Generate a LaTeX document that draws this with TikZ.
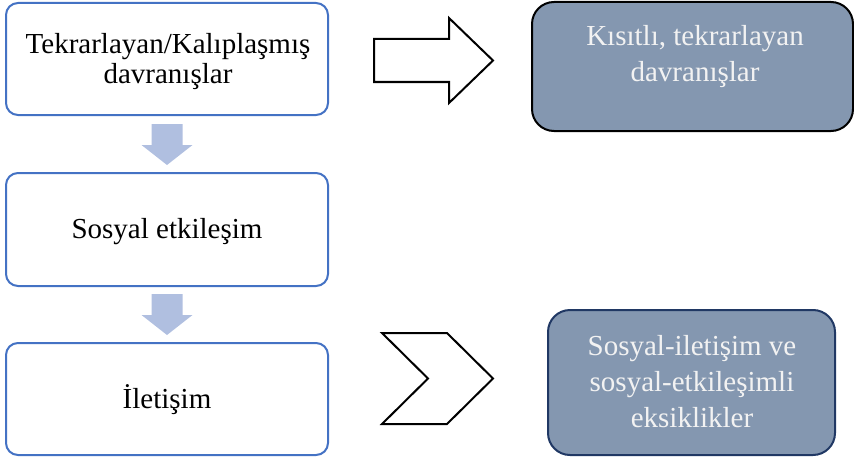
\documentclass[tikz,border=0pt]{standalone}
\usepackage{fontspec}
\setmainfont{Liberation Serif}
\definecolor{boxblue}{RGB}{68,114,196}
\definecolor{arrowblue}{RGB}{176,191,224}
\definecolor{slate}{RGB}{132,151,176}
\definecolor{navyb}{RGB}{32,56,100}
\definecolor{paletext}{RGB}{242,242,242}
\tikzset{
  lbox/.style={draw=boxblue, line width=2pt, rounded corners=12pt, fill=white,
    minimum width=322pt, minimum height=112pt, inner sep=0pt},
  dbox/.style={fill=slate, line width=2pt, rounded corners=22pt, inner sep=0pt},
  btext/.style={font=\fontsize{29}{30}\selectfont, align=center, inner sep=0pt, anchor=base},
  wtext/.style={font=\fontsize{29}{36}\selectfont, align=center, inner sep=0pt, anchor=base, text=paletext},
  downarrow/.style={fill=arrowblue, draw=none},
  hollow/.style={draw=black, line width=2pt, fill=white, line join=miter}
}
\begin{document}
\begin{tikzpicture}[x=1pt,y=-1pt]
\useasboundingbox (0,0) rectangle (854,460);
% left boxes
\node[lbox] (b1) at (167,59) {};
\node[lbox, minimum height=113pt] (b2) at (167,229.5) {};
\node[lbox] (b3) at (167,399) {};
\node[btext] (t1) at (168,83.5) {Tekrarlayan/Kalıplaşmış\\davranışlar};
\node[btext] (t2) at (167,238) {Sosyal etkileşim};
\node[btext] (t3) at (167,408) {İletişim};
% down block arrows
\fill[downarrow] ([xshift=-15.5pt,yshift=-8pt]b1.south) -- ++(31,0) -- ++(0,21) -- ++(10,0)
  -- ([yshift=-49pt]b1.south) -- ([xshift=-25.5pt,yshift=-29pt]b1.south) -- ++(10,0) -- cycle;
\fill[downarrow] ([xshift=-15.5pt,yshift=-7pt]b2.south) -- ++(31,0) -- ++(0,21) -- ++(10,0)
  -- ([yshift=-48pt]b2.south) -- ([xshift=-25.5pt,yshift=-28pt]b2.south) -- ++(10,0) -- cycle;
% right boxes
\node[dbox, draw=black, minimum width=321pt, minimum height=129pt] (r1) at (692.5,66.5) {};
\node[wtext] (r1t) at (695,81.5) {Kısıtlı, tekrarlayan\\davranışlar};
\node[dbox, draw=navyb, minimum width=287pt, minimum height=145pt] (r2) at (691.5,382.5) {};
\node[wtext] (r2t) at (692,427) {Sosyal-iletişim ve\\sosyal-etkileşimli\\eksiklikler};
% hollow arrow
\draw[hollow] (374,39) -- (449,39) -- (449,18) -- (493,60.5) -- (449,103) -- (449,82) -- (374,82) -- cycle;
% chevron
\draw[hollow] (382,333) -- (447,333) -- (493,378.5) -- (447,424) -- (382,424) -- (428,378.5) -- cycle;
\end{tikzpicture}
\end{document}
